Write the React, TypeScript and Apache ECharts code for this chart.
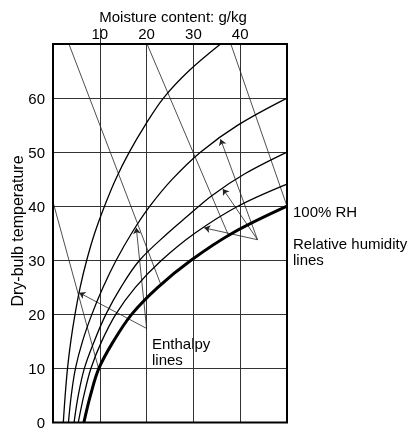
import React, { useEffect, useRef } from "react";
import * as echarts from "echarts";

// axis ticks
const moistureTicks = [10, 20, 30, 40];
const temperatureTicks = [0, 10, 20, 30, 40, 50, 60];

// Relative humidity curves: [moisture content g/kg, dry-bulb temperature]
const rh100 = [[6.6, 0], [8.0, 5], [9.8, 10], [12.9, 15], [16.8, 20], [22.4, 25], [29.5, 30], [38.3, 35], [50, 40]];
const rhD = [[5.4, 0], [6.6, 5], [8.1, 10], [10.4, 15], [13.4, 20], [17.6, 25], [23.2, 30], [30.3, 35], [39.5, 40], [50, 44.1]];
const rhC = [[4.5, 0], [5.4, 5], [6.7, 10], [8.8, 15], [11.3, 20], [14.5, 25], [18.5, 30], [24.5, 35], [28.5, 38], [34, 42], [41, 46], [50, 50]];
const rhB = [[3.3, 0], [3.9, 5], [4.8, 10], [6.3, 15], [8.3, 20], [10.7, 25], [13.5, 30], [16.8, 35], [20.7, 40], [25.5, 45], [31.5, 50], [39.5, 55], [50, 60]];
const rhA = [[2.2, 0], [2.6, 5], [3.1, 10], [3.8, 15], [4.7, 20], [5.8, 25], [7.2, 30], [8.9, 35], [11.0, 40], [13.4, 45], [16.3, 50], [19.7, 55], [23.6, 60], [29.0, 65], [35.8, 70]];

// Enthalpy lines (straight)
const enthalpyLines = [
  [[0, 40.8], [9.8, 9.8]],
  [[3.4, 70], [23.0, 25.6]],
  [[20.1, 70], [37.6, 34.4]],
  [[38.0, 70], [50, 40]],
];

// Annotation leader lines: [origin, arrow tip]
const rhPointers = [
  [[43.7, 33.8], [35.8, 52.4]],
  [[43.7, 33.8], [36.3, 43.2]],
  [[43.7, 33.8], [32.3, 36.0]],
];
const enthalpyPointers = [
  [[20.0, 17.4], [17.8, 36.0]],
  [[20.0, 17.4], [5.6, 24.0]],
];
const tickStub = [[[10, 70], [10, 72.9]]];

const FONT = "'Liberation Sans', Arial, Helvetica, sans-serif";
const FS = 15;

export default function App() {
  const ref = useRef<HTMLDivElement>(null);
  useEffect(() => {
    if (!ref.current) return;
    const chart = echarts.init(ref.current, null, { renderer: "svg" });
    const curve = (data: number[][], width: number) => ({
      type: "line",
      data,
      smooth: 0.35,
      symbol: "none",
      lineStyle: { color: "#000", width },
      silent: true,
      z: 3,
    });
    const segs = (list: number[][][], arrow: boolean, width: number, color: string) => ({
      type: "lines",
      coordinateSystem: "cartesian2d",
      data: list.map((c) => ({ coords: c })),
      symbol: arrow ? ["none", "arrow"] : ["none", "none"],
      symbolSize: 6,
      lineStyle: { color, width, opacity: 1, curveness: 0 },
      silent: true,
      z: 2,
    });
    chart.setOption({
      animation: false,
      textStyle: { fontFamily: FONT },
      grid: {
        left: 53,
        top: 44,
        width: 234,
        height: 385,
        show: true,
        borderColor: "#000",
        borderWidth: 2,
        backgroundColor: "transparent",
        z: 5,
      },
      xAxis: {
        type: "value",
        position: "top",
        min: 0,
        max: 50,
        interval: 10,
        axisLine: { show: false },
        axisTick: { show: false },
        axisLabel: {
          margin: 3,
          fontSize: FS,
          color: "#000",
          fontFamily: FONT,
          formatter: (v: number) => (moistureTicks.includes(v) ? String(v) : ""),
        },
        splitLine: { show: true, lineStyle: { color: "#333", width: 1 } },
      },
      yAxis: {
        type: "value",
        min: 0,
        max: 70,
        interval: 10,
        axisLine: { show: false },
        axisTick: { show: false },
        axisLabel: {
          margin: 8,
          fontSize: FS,
          color: "#000",
          fontFamily: FONT,
          formatter: (v: number) => (temperatureTicks.includes(v) ? String(v) : ""),
        },
        splitLine: { show: true, lineStyle: { color: "#333", width: 1 } },
      },
      graphic: [
        {
          type: "text",
          x: 173,
          y: 16,
          style: { text: "Moisture content: g/kg", fontSize: FS, fontFamily: FONT, fill: "#000", align: "center", verticalAlign: "middle" },
        },
        {
          type: "text",
          x: 17,
          y: 231,
          rotation: Math.PI / 2,
          style: { text: "Dry-bulb temperature", fontSize: 16, fontFamily: FONT, fill: "#000", align: "center", verticalAlign: "middle" },
        },
        {
          type: "text",
          x: 293,
          y: 211,
          style: { text: "100% RH", fontSize: FS, fontFamily: FONT, fill: "#000", align: "left", verticalAlign: "middle" },
        },
        {
          type: "text",
          x: 293,
          y: 235,
          style: { text: "Relative humidity\nlines", fontSize: FS, lineHeight: 16, fontFamily: FONT, fill: "#000", align: "left", verticalAlign: "top" },
        },
        {
          type: "text",
          x: 152,
          y: 335,
          style: { text: "Enthalpy\nlines", fontSize: FS, lineHeight: 16, fontFamily: FONT, fill: "#000", align: "left", verticalAlign: "top" },
        },
      ],
      series: [
        curve(rhA, 1.3),
        curve(rhB, 1.3),
        curve(rhC, 1.3),
        curve(rhD, 1.3),
        curve(rh100, 3),
        segs(enthalpyLines, false, 0.8, "#222"),
        segs(rhPointers, true, 0.8, "#222"),
        segs(enthalpyPointers, true, 0.8, "#222"),
        { ...segs(tickStub, false, 1, "#333"), clip: false },
      ],
    });
    return () => chart.dispose();
  }, []);
  return <div ref={ref} style={{ position: "fixed", left: 0, top: 0, width: 414, height: 430 }} />;
}
